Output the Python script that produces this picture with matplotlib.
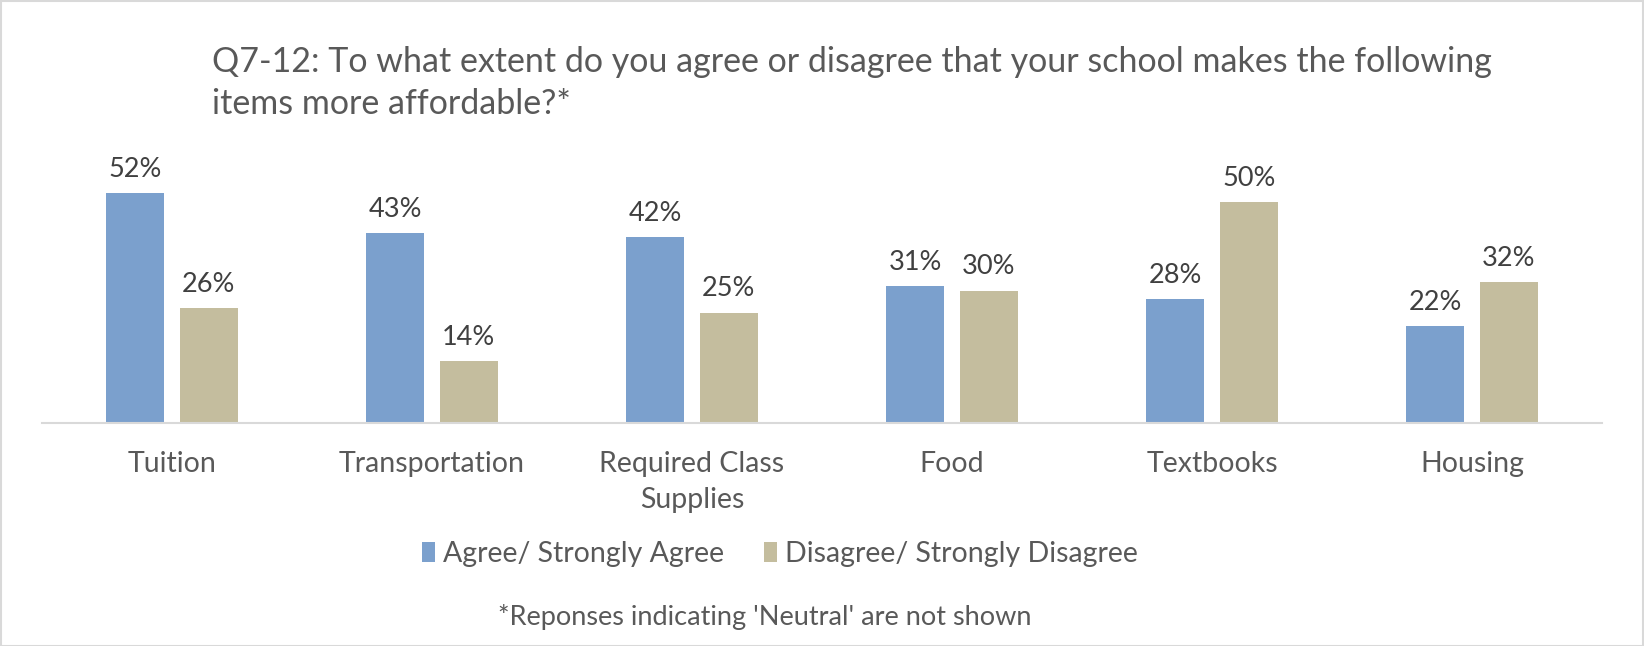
import matplotlib.pyplot as plt
import numpy as np
from matplotlib.patches import Rectangle

categories = ["Tuition", "Transportation", "Required Class\nSupplies", "Food", "Textbooks", "Housing"]
agree = [52, 43, 42, 31, 28, 22]
disagree = [26, 14, 25, 30, 50, 32]
series_names = ["Agree/ Strongly Agree", "Disagree/ Strongly Disagree"]

title = "Q7-12: To what extent do you agree or disagree that your school makes the following\nitems more affordable?*"
footnote = "*Reponses indicating 'Neutral' are not shown"

blue = "#7BA0CD"
tan = "#C4BD9E"
grey_text = "#595959"

plt.rcParams['font.family'] = ['Lato', 'DejaVu Sans']

W, H = 1644, 646
fig = plt.figure(figsize=(W / 100, H / 100), dpi=100)

# axes placed in pixel terms
ax_left, ax_right, ax_bottom, ax_top = 42, 1602, 423, 158
ax = fig.add_axes([ax_left / W, 1 - ax_bottom / H, (ax_right - ax_left) / W, (ax_bottom - ax_top) / H])

x = np.arange(len(categories))
w = 0.223
off = 0.142
b1 = ax.bar(x - off, agree, w, color=blue, label=series_names[0])
b2 = ax.bar(x + off, disagree, w, color=tan, label=series_names[1])
for bars in (b1, b2):
    ax.bar_label(bars, labels=[f"{v}%" for v in bars.datavalues], padding=8,
                 fontsize=19.5, color="#404040")

ax.set_xlim(-0.5, len(categories) - 0.5)
ax.set_ylim(0, 60)
ax.set_yticks([])
ax.set_xticks(x)
ax.set_xticklabels(categories, fontsize=20.5, color=grey_text, linespacing=1.5)
ax.tick_params(axis='x', length=0, pad=20)
for s in ["top", "left", "right"]:
    ax.spines[s].set_visible(False)
ax.spines["bottom"].set_color("#D9D9D9")
ax.spines["bottom"].set_linewidth(1.5)

fig.text(212 / W, 1 - 83 / H, title, fontsize=24.5, color=grey_text, ha="left", va="center",
         linespacing=1.42)

fig.legend(loc="center", bbox_to_anchor=(780 / W, 1 - 554 / H), ncol=2, frameon=False,
           fontsize=20.5, labelcolor=grey_text, handlelength=0.45, handleheight=0.75,
           handletextpad=0.3, columnspacing=1.4)

fig.text(765 / W, 1 - 617 / H, footnote, fontsize=19.5, color=grey_text, ha="center", va="center")

fig.patches.append(Rectangle((0.5 / W, 0.5 / H), 1 - 1.5 / W, 1 - 1.5 / H, transform=fig.transFigure,
                             fill=False, edgecolor="#D9D9D9", linewidth=1.5))

fig.savefig("out.png", dpi=100)
